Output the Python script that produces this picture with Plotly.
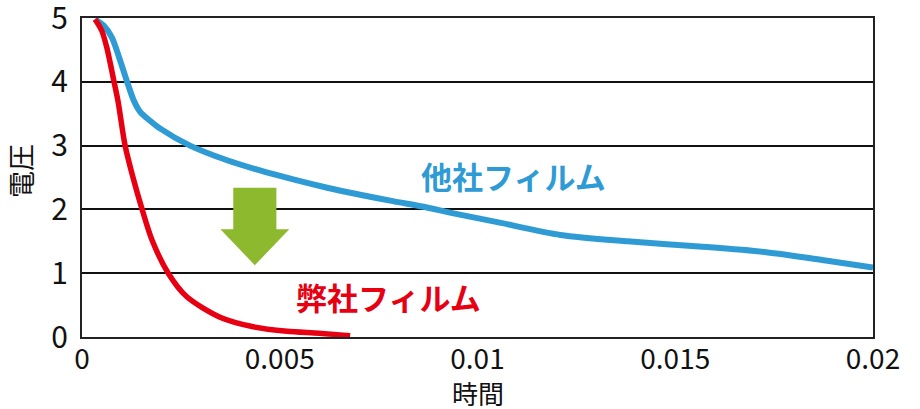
import plotly.graph_objects as go

# Data
blue_t = [0.00033, 0.00055, 0.00076, 0.00095, 0.00114, 0.00130, 0.00147, 0.00172, 0.00197, 0.00273, 0.00367,
          0.0045, 0.00534, 0.0062, 0.00703, 0.00786, 0.00872, 0.0093, 0.0105, 0.0121, 0.0138, 0.0156, 0.0173,
          0.0188, 0.0200]
blue_v = [4.98, 4.88, 4.69, 4.36, 4.0, 3.72, 3.53, 3.39, 3.27, 3.0, 2.77,
          2.61, 2.47, 2.34, 2.23, 2.13, 2.03, 1.95, 1.8, 1.6, 1.5, 1.42, 1.33, 1.2, 1.09]
red_t = [0.00033, 0.00050, 0.00063, 0.00081, 0.00091, 0.00109, 0.00129, 0.00152, 0.00177, 0.00218, 0.00265,
         0.00349, 0.00433, 0.00518, 0.0060, 0.00678]
red_v = [4.98, 4.80, 4.53, 4.0, 3.7, 3.0, 2.5, 2.0, 1.52, 1.0, 0.63,
         0.31, 0.16, 0.09, 0.06, 0.02]
x_ticks = [0, 0.005, 0.01, 0.015, 0.02]
x_tick_labels = ["0", "0.005", "0.01", "0.015", "0.02"]
y_ticks = [0, 1, 2, 3, 4, 5]

BLUE = "#2F9BD5"
RED = "#E60012"
GREEN = "#8DB92E"
JP = "Noto Sans CJK JP"

fig = go.Figure()
fig.add_trace(go.Scatter(x=blue_t, y=blue_v, mode="lines", line=dict(color=BLUE, width=6, shape="spline", smoothing=0.8),
                         showlegend=False, hoverinfo="skip"))
fig.add_trace(go.Scatter(x=red_t, y=red_v, mode="lines", line=dict(color=RED, width=5.5, shape="spline", smoothing=0.8),
                         showlegend=False, hoverinfo="skip"))

# Green down arrow (data coordinates)
ax_c, body_w, head_w = 0.00437, 0.00109, 0.00174
top, neck, tip = 2.34, 1.69, 1.125
path = (f"M {ax_c-body_w/2},{top} L {ax_c+body_w/2},{top} L {ax_c+body_w/2},{neck} "
        f"L {ax_c+head_w/2},{neck} L {ax_c},{tip} L {ax_c-head_w/2},{neck} L {ax_c-body_w/2},{neck} Z")
fig.add_shape(type="path", path=path, xref="x", yref="y", fillcolor=GREEN, line=dict(width=0), layer="above")

fig.add_annotation(x=0.0109, y=2.53, xref="x", yref="y", text="<b>他社フィルム</b>", showarrow=False,
                   font=dict(family=JP, size=31, color=BLUE))
fig.add_annotation(x=0.00774, y=0.63, xref="x", yref="y", text="<b>弊社フィルム</b>", showarrow=False,
                   font=dict(family=JP, size=31, color=RED))

# Axis titles
fig.add_annotation(text="電圧", showarrow=False, textangle=-90, font=dict(family=JP, size=27, color="#111"),
                   xref="paper", yref="paper", x=0, y=0.52, xanchor="center", yanchor="middle", xshift=-62)
fig.add_annotation(text="時間", showarrow=False, font=dict(family=JP, size=26, color="#111"),
                   xref="paper", yref="paper", x=0.5, y=0, xanchor="center", yanchor="middle", yshift=-55)

fig.update_xaxes(range=[0, 0.02], tickvals=x_ticks, ticktext=x_tick_labels, showgrid=False,
                 showline=True, linecolor="#222", linewidth=2, mirror=True, zeroline=False,
                 tickfont=dict(family=JP, size=28, color="#111"), ticks="", automargin=False,
                 ticklabelstandoff=-4, ticklabeloverflow="allow")
fig.update_yaxes(range=[0, 5], tickvals=y_ticks, showgrid=True, gridcolor="#111", gridwidth=2,
                 showline=True, linecolor="#222", linewidth=2, mirror=True, zeroline=False,
                 tickfont=dict(family=JP, size=30, color="#111"), ticks="", automargin=False,
                 ticklabelstandoff=6, ticklabeloverflow="allow")

fig.update_layout(width=920, height=409, margin=dict(l=82, r=47, t=18, b=72),
                  plot_bgcolor="white", paper_bgcolor="white")
fig.write_html("out.html", config={"displayModeBar": False},
               post_script="document.body.style.margin='0';document.body.style.overflow='hidden';")
